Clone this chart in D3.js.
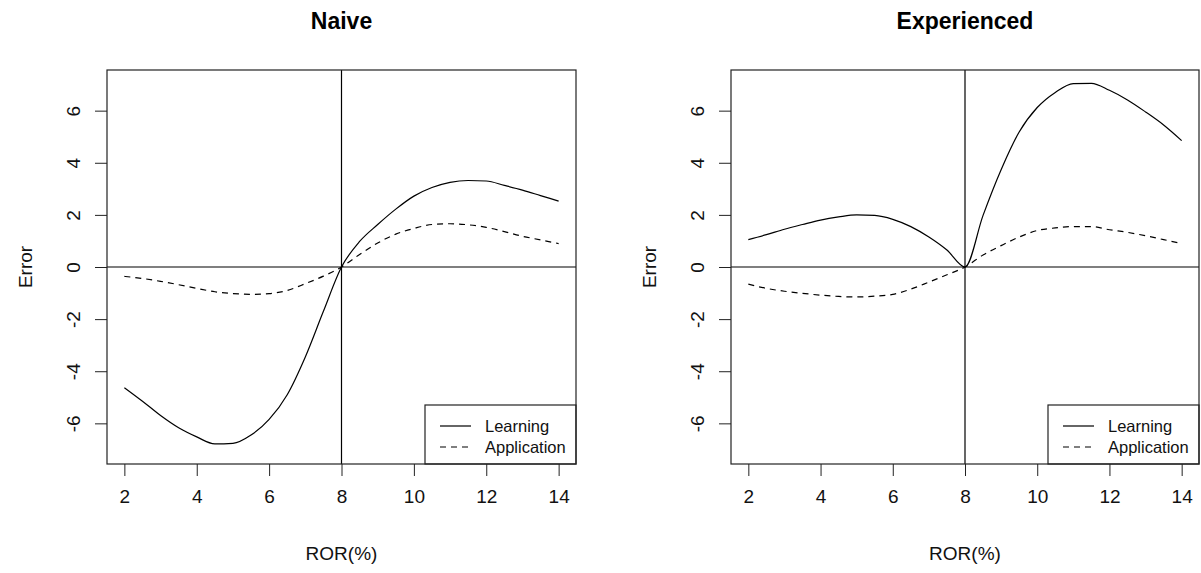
<!DOCTYPE html>
<html>
<head>
<meta charset="utf-8">
<script src="https://cdn.jsdelivr.net/npm/d3@7"></script>
<style>
  body { margin: 0; background: #fff; }
  svg { font-family: "Liberation Sans", Arial, sans-serif; }
</style>
</head>
<body>
<script>
const width = 1201;
const height = 573;

// ROR(%) sampled every half point
const ror = [2, 2.5, 3, 3.5, 4, 4.5, 5, 5.5, 6, 6.5, 7, 7.5, 8,
             8.5, 9, 9.5, 10, 10.5, 11, 11.5, 12, 12.5, 13, 13.5, 14];

const naiveLearning = [-4.63, -5.15, -5.70, -6.17, -6.52, -6.79, -6.77, -6.45, -5.85, -4.90, -3.45, -1.70, 0,
                       0.98, 1.63, 2.22, 2.72, 3.05, 3.25, 3.32, 3.30, 3.13, 2.95, 2.74, 2.53];
const naiveApplication = [-0.36, -0.44, -0.55, -0.68, -0.82, -0.95, -1.02, -1.05, -1.02, -0.90, -0.64, -0.35, 0,
                          0.48, 0.92, 1.26, 1.48, 1.63, 1.66, 1.62, 1.52, 1.36, 1.18, 1.04, 0.90];
const expLearning = [1.05, 1.24, 1.45, 1.63, 1.80, 1.92, 2.00, 1.98, 1.83, 1.55, 1.15, 0.65, 0,
                     1.98, 3.73, 5.18, 6.12, 6.70, 7.04, 7.05, 6.78, 6.41, 5.95, 5.45, 4.85];
const expApplication = [-0.66, -0.82, -0.93, -1.01, -1.08, -1.13, -1.15, -1.12, -1.05, -0.85, -0.58, -0.30, 0,
                        0.46, 0.82, 1.15, 1.40, 1.50, 1.55, 1.55, 1.43, 1.33, 1.20, 1.05, 0.90];

const xTicks = [2, 4, 6, 8, 10, 12, 14];
const yTicks = [-6, -4, -2, 0, 2, 4, 6];
const seriesNames = ["Learning", "Application"];

const svg = d3.select("body")
    .append("svg")
    .attr("width", width)
    .attr("height", height);

// R-style 4% padding on the axis ranges
const xDomain = [2 - 0.48, 14 + 0.48];
const yDomain = [-7.56, 7.56];

function drawPanel(left, right, title, learning, application) {
    const top = 70, bottom = 464;

    const xScale = d3.scaleLinear().domain(xDomain).range([left, right]);
    const yScale = d3.scaleLinear().domain(yDomain).range([bottom, top]);

    const g = svg.append("g");

    // x axis
    const xAxis = g.append("g")
        .attr("transform", `translate(0, ${bottom})`)
        .call(d3.axisBottom(xScale).tickValues(xTicks).tickSize(12).tickPadding(14).tickFormat(d => String(d)));
    xAxis.select(".domain").remove();
    xAxis.selectAll(".tick line").attr("stroke", "#222");
    xAxis.selectAll("text").attr("font-size", 19).attr("fill", "#111")
        .attr("font-family", "Liberation Sans, Arial, sans-serif");

    // y axis, labels turned like R's default (plain hyphen minus)
    const yAxis = g.append("g")
        .attr("transform", `translate(${left}, 0)`)
        .call(d3.axisLeft(yScale).tickValues(yTicks).tickSize(12).tickFormat(d => String(d)));
    yAxis.select(".domain").remove();
    yAxis.selectAll(".tick line").attr("stroke", "#222");
    yAxis.selectAll("text")
        .attr("x", null).attr("dy", null)
        .attr("transform", "translate(-34,0) rotate(-90)")
        .attr("text-anchor", "middle")
        .attr("dominant-baseline", "central")
        .attr("font-size", 19).attr("fill", "#111")
        .attr("font-family", "Liberation Sans, Arial, sans-serif");

    // reference lines
    g.append("line")
        .attr("x1", xScale(8)).attr("x2", xScale(8))
        .attr("y1", top).attr("y2", bottom)
        .attr("stroke", "#000").attr("stroke-width", 1.2);
    g.append("line")
        .attr("x1", left).attr("x2", right)
        .attr("y1", yScale(0)).attr("y2", yScale(0))
        .attr("stroke", "#000").attr("stroke-width", 1.2);

    const line = d3.line()
        .x((d, i) => xScale(ror[i]))
        .y(d => yScale(d))
        .curve(d3.curveMonotoneX);

    g.append("path")
        .datum(learning)
        .attr("d", line)
        .attr("fill", "none")
        .attr("stroke", "#000")
        .attr("stroke-width", 1.2);

    g.append("path")
        .datum(application)
        .attr("d", line)
        .attr("fill", "none")
        .attr("stroke", "#000")
        .attr("stroke-width", 1.2)
        .attr("stroke-dasharray", "6,5");

    // legend, bottom right
    const lw = 151, lh = 59;
    const lg = g.append("g").attr("transform", `translate(${right - lw}, ${bottom - lh})`);
    lg.append("rect")
        .attr("width", lw).attr("height", lh)
        .attr("fill", "#fff").attr("stroke", "#222").attr("stroke-width", 1.2);
    seriesNames.forEach((name, i) => {
        const y = 21 + i * 21;
        lg.append("line")
            .attr("x1", 15).attr("x2", 46)
            .attr("y1", y).attr("y2", y)
            .attr("stroke", "#000").attr("stroke-width", 1.2)
            .attr("stroke-dasharray", i === 1 ? "6,5" : null);
        lg.append("text")
            .attr("x", 60).attr("y", y)
            .attr("dominant-baseline", "central")
            .attr("font-size", 16.5).attr("fill", "#111")
            .text(name);
    });

    // plot box
    g.append("rect")
        .attr("x", left).attr("y", top)
        .attr("width", right - left).attr("height", bottom - top)
        .attr("fill", "none").attr("stroke", "#222").attr("stroke-width", 1.2);

    // titles and axis labels
    g.append("text")
        .attr("x", (left + right) / 2).attr("y", 21)
        .attr("text-anchor", "middle").attr("dominant-baseline", "central")
        .attr("font-size", 23).attr("font-weight", "bold").attr("fill", "#000")
        .text(title);
    g.append("text")
        .attr("x", (left + right) / 2).attr("y", 553)
        .attr("text-anchor", "middle").attr("dominant-baseline", "central")
        .attr("font-size", 19).attr("fill", "#111")
        .text("ROR(%)");
    g.append("text")
        .attr("transform", `translate(${left - 82}, ${(top + bottom) / 2}) rotate(-90)`)
        .attr("text-anchor", "middle").attr("dominant-baseline", "central")
        .attr("font-size", 19).attr("fill", "#111")
        .text("Error");
}

drawPanel(107, 576, "Naive", naiveLearning, naiveApplication);
drawPanel(731, 1199, "Experienced", expLearning, expApplication);
</script>
</body>
</html>
